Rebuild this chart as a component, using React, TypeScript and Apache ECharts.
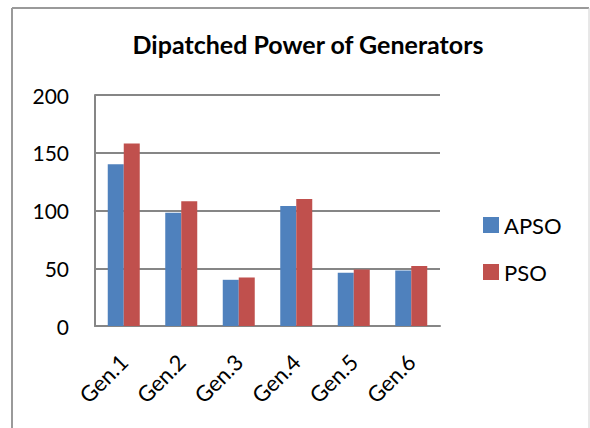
import React, { useEffect, useRef } from "react";
import * as echarts from "echarts";

const categories = ["Gen.1", "Gen.2", "Gen.3", "Gen.4", "Gen.5", "Gen.6"];
const apso = [140, 98, 40, 104, 46, 48];
const pso = [158, 108, 42, 110, 49, 52];
const yTicks = { min: 0, max: 200, interval: 50 };

const FONT = "Lato, 'Open Sans', sans-serif";

export default function App() {
  const ref = useRef<HTMLDivElement>(null);
  useEffect(() => {
    if (!ref.current) return;
    const chart = echarts.init(ref.current, null, { renderer: "svg" });
    chart.setOption({
      animation: false,
      backgroundColor: "#ffffff",
      title: {
        text: "Dipatched Power of Generators",
        left: 308,
        textAlign: "center",
        top: 31,
        padding: 0,
        textStyle: { fontFamily: FONT, fontWeight: "bold", fontSize: 25, color: "#000" },
      },
      legend: {
        orient: "vertical",
        left: 483,
        top: 214,
        padding: 0,
        itemWidth: 16,
        itemHeight: 16,
        itemGap: 25,
        icon: "rect",
        textStyle: { fontFamily: FONT, fontSize: 22, color: "#000" },
        data: ["APSO", "PSO"],
      },
      grid: { left: 95, right: 150, top: 95, bottom: 102, containLabel: false },
      xAxis: {
        type: "category",
        data: categories,
        axisLine: { show: true, lineStyle: { color: "#868686", width: 2 } },
        axisTick: { show: false },
        axisLabel: {
          rotate: 45,
          fontFamily: FONT,
          fontSize: 22,
          color: "#000",
          margin: 32,
          interval: 0,
        },
      },
      yAxis: {
        type: "value",
        min: yTicks.min,
        max: yTicks.max,
        interval: yTicks.interval,
        axisLine: { show: true, lineStyle: { color: "#868686", width: 2 } },
        axisTick: { show: false },
        splitLine: { show: true, lineStyle: { color: "#868686", width: 2 } },
        axisLabel: { fontFamily: FONT, fontSize: 21, color: "#000", margin: 26 },
      },
      series: [
        {
          name: "APSO",
          type: "bar",
          data: apso,
          barWidth: 16,
          barGap: "0%",
          itemStyle: { color: "#4F81BD" },
        },
        {
          name: "PSO",
          type: "bar",
          data: pso,
          barWidth: 16,
          barGap: "0%",
          itemStyle: { color: "#C0504D" },
        },
      ],
      graphic: [
        { type: "line", shape: { x1: 12, y1: 8, x2: 589, y2: 8 }, style: { stroke: "#9a9a9a", lineWidth: 2 } },
        { type: "line", shape: { x1: 12, y1: 8, x2: 12, y2: 428 }, style: { stroke: "#9a9a9a", lineWidth: 2 } },
        { type: "line", shape: { x1: 589, y1: 8, x2: 589, y2: 428 }, style: { stroke: "#d0d0d0", lineWidth: 1 } },
      ],
    });
    return () => chart.dispose();
  }, []);
  return (
    <div
      ref={ref}
      style={{ position: "absolute", left: 0, top: 0, width: 590, height: 428 }}
    />
  );
}
